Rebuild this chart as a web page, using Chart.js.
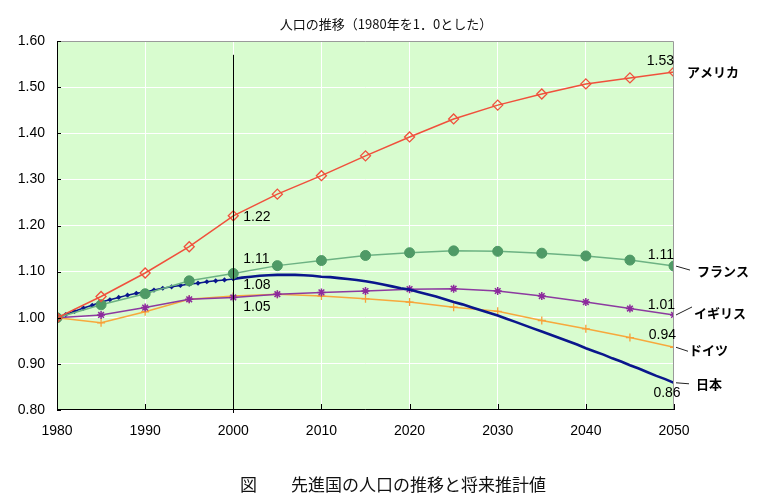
<!DOCTYPE html>
<html><head><meta charset="utf-8">
<script src="https://cdn.jsdelivr.net/npm/chart.js@4"></script>
<style>html,body{margin:0;padding:0;background:#fff}#wrap{width:775px;height:500px}</style>
</head><body><div id="wrap"><canvas id="c" width="775" height="500"></canvas></div>
<script>
const years5 = [1980,1985,1990,1995,2000,2005,2010,2015,2020,2025,2030,2035,2040,2045,2050];
const usa     = [1.000,1.046,1.097,1.154,1.221,1.268,1.308,1.351,1.392,1.431,1.461,1.485,1.507,1.520,1.533];
const france  = [1.000,1.028,1.052,1.080,1.096,1.113,1.124,1.135,1.141,1.145,1.144,1.140,1.134,1.125,1.112];
const uk      = [1.000,1.006,1.022,1.040,1.044,1.051,1.055,1.058,1.062,1.063,1.058,1.047,1.034,1.020,1.006];
const germany = [1.000,0.989,1.013,1.040,1.047,1.051,1.047,1.041,1.034,1.023,1.014,0.994,0.976,0.957,0.936];
const japanYears = Array.from({length:71},(_,i)=>1980+i);
const japan = [1.000,1.007,1.014,1.021,1.027,1.034,1.039,1.044,1.049,1.053,
  1.056,1.060,1.064,1.067,1.070,1.073,1.075,1.078,1.080,1.082,
  1.084,1.087,1.089,1.091,1.092,1.093,1.093,1.093,1.092,1.091,
  1.089,1.088,1.086,1.084,1.082,1.079,1.076,1.072,1.068,1.064,
  1.061,1.056,1.051,1.046,1.040,1.034,1.029,1.023,1.017,1.011,
  1.005,0.998,0.991,0.984,0.977,0.970,0.963,0.956,0.949,0.942,
  0.934,0.927,0.920,0.912,0.905,0.897,0.890,0.882,0.874,0.867,0.859];
const countryNames = ['アメリカ','フランス','イギリス','ドイツ','日本'];
const xTicks = [1980,1990,2000,2010,2020,2030,2040,2050];
const yTicks = [0.80,0.90,1.00,1.10,1.20,1.30,1.40,1.50,1.60];
const labels2000 = ['1.22','1.11','1.08','1.05'];
const labels2050 = ['1.53','1.11','1.01','0.94','0.86'];
const titleText = '人口の推移（1980年を1．0とした）';
const captionText = '図　　先進国の人口の推移と将来推計値';

const pts = (xs, ys) => xs.map((x,i)=>({x, y: ys[i]}));
const NUM = '"Liberation Sans", Arial, sans-serif';
const JP = '"Noto Sans CJK JP", sans-serif';

const deco = {
  id: 'deco',
  beforeDraw(chart) {
    const {ctx, chartArea: a} = chart;
    ctx.save();
    ctx.fillStyle = '#d8fccf';
    ctx.fillRect(a.left, a.top, a.right - a.left, a.bottom - a.top);
    ctx.restore();
  },
  afterDatasetsDraw(chart) {
    const {ctx, chartArea: a, scales: {x, y}} = chart;
    ctx.save();
    ctx.strokeStyle = '#000'; ctx.lineWidth = 1;
    const x2000 = Math.round(x.getPixelForValue(2000)) + 0.5;
    ctx.beginPath(); ctx.moveTo(x2000, y.getPixelForValue(1.57)); ctx.lineTo(x2000, a.bottom + 3); ctx.stroke();
    ctx.strokeStyle = '#9a9a9a';
    ctx.beginPath(); ctx.moveTo(a.left, a.top + 0.5); ctx.lineTo(a.right - 0.5, a.top + 0.5); ctx.lineTo(a.right - 0.5, a.bottom); ctx.stroke();
    ctx.strokeStyle = '#000';
    ctx.beginPath(); ctx.moveTo(a.left + 0.5, a.top); ctx.lineTo(a.left + 0.5, a.bottom - 0.5); ctx.lineTo(a.right, a.bottom - 0.5); ctx.stroke();
    ctx.beginPath();
    xTicks.forEach(v => { const px = Math.round(x.getPixelForValue(v)) + 0.5; ctx.moveTo(px, a.bottom); ctx.lineTo(px, a.bottom - 6); });
    yTicks.forEach(v => { const py = Math.round(y.getPixelForValue(v)) + 0.5; ctx.moveTo(a.left, py); ctx.lineTo(a.left + 4, py); });
    ctx.stroke();

    ctx.fillStyle = '#000';
    ctx.font = '14px ' + NUM;
    ctx.textBaseline = 'middle';
    const xp2000 = x.getPixelForValue(2000);
    ctx.textAlign = 'left';
    ctx.fillText(labels2000[0], xp2000 + 10, y.getPixelForValue(usa[4]) + 1);
    ctx.fillText(labels2000[1], xp2000 + 10, y.getPixelForValue(france[5]) - 6);
    ctx.fillText(labels2000[2], xp2000 + 10, y.getPixelForValue(japan[20]) + 6);
    ctx.fillText(labels2000[3], xp2000 + 10, y.getPixelForValue(uk[4]) + 10);
    const xe = x.getPixelForValue(2050);
    ctx.textAlign = 'right';
    ctx.fillText(labels2050[0], xe, y.getPixelForValue(usa[14]) - 11);
    ctx.fillText(labels2050[1], xe, y.getPixelForValue(france[14]) - 11);
    ctx.fillText(labels2050[2], xe + 1, y.getPixelForValue(uk[14]) - 10);
    ctx.fillText(labels2050[3], xe + 2, y.getPixelForValue(germany[14]) - 12);
    ctx.textAlign = 'center';
    ctx.fillText(labels2050[4], xe - 7, y.getPixelForValue(japan[70]) + 10);

    ctx.font = 'bold 13px ' + JP;
    ctx.textAlign = 'left';
    ctx.strokeStyle = '#222'; ctx.lineWidth = 1;
    ctx.fillText(countryNames[0], xe + 13, y.getPixelForValue(usa[14]));
    const lead = (yv, dx1, dy1, tx, ty, name) => {
      const py = y.getPixelForValue(yv);
      ctx.beginPath(); ctx.moveTo(xe + 2, py); ctx.lineTo(xe + dx1, py + dy1); ctx.stroke();
      ctx.fillText(name, xe + tx, py + ty);
    };
    lead(france[14], 16, 4, 23, 5, countryNames[1]);
    lead(uk[14], 18, -8, 20, -2, countryNames[2]);
    lead(germany[14], 14, 4, 15, 3, countryNames[3]);
    lead(japan[70], 15, 1, 22, 1, countryNames[4]);

    ctx.fillStyle = '#111';
    ctx.font = '13px ' + JP;
    ctx.textAlign = 'center';
    ctx.fillText(titleText, 386, 24);
    ctx.font = '17px ' + JP;
    ctx.textAlign = 'left';
    ctx.fillText(captionText, 240, 485);
    ctx.restore();
  }
};

new Chart(document.getElementById('c'), {
  type: 'line',
  data: {
    datasets: [
      { label: countryNames[0], data: pts(years5, usa), borderColor: '#f0503c', borderWidth: 1.5,
        pointStyle: 'rectRot', pointRadius: 5, pointBorderColor: '#f0503c', pointBackgroundColor: 'rgba(0,0,0,0)', pointBorderWidth: 1.3 },
      { label: countryNames[1], data: pts(years5, france), borderColor: '#6cb283', borderWidth: 1.5,
        pointStyle: 'circle', pointRadius: 5, pointBorderColor: '#4f9a66', pointBackgroundColor: '#4f9a66', pointBorderWidth: 1 },
      { label: countryNames[4], data: pts(japanYears, japan), borderColor: '#0a168c', borderWidth: 2.6,
        segment: { borderWidth: c => (c.p1.parsed.x <= 2000 ? 1.5 : 2.6) },
        pointStyle: 'rectRot', pointRadius: c => (c.raw && c.raw.x <= 2000 ? 2.6 : 0), pointBackgroundColor: '#0a168c', pointBorderColor: '#0a168c', pointBorderWidth: 0 },
      { label: countryNames[2], data: pts(years5, uk), borderColor: '#8c3aa0', borderWidth: 1.5,
        pointStyle: 'star', pointRadius: 4, pointBorderColor: '#8c2a9c', pointBackgroundColor: '#8c2a9c', pointBorderWidth: 1.5 },
      { label: countryNames[3], data: pts(years5, germany), borderColor: '#f7a83c', borderWidth: 1.5,
        pointStyle: 'cross', pointRadius: 4, pointBorderColor: '#f7a03a', pointBorderWidth: 1.3 }
    ]
  },
  options: {
    responsive: false, animation: false,
    layout: { padding: { left: 0, right: 101, top: 41, bottom: 0 } },
    plugins: { legend: { display: false }, tooltip: { enabled: false }, title: { display: false } },
    elements: { line: { tension: 0 } },
    scales: {
      x: { type: 'linear', min: 1980, max: 2050,
        afterFit: s => { s.height = 90; },
        afterBuildTicks: s => { s.ticks = xTicks.map(v => ({value: v})); },
        grid: { color: '#ffffff', lineWidth: 1, drawTicks: false },
        border: { display: false },
        ticks: { padding: 13, color: '#000', font: { family: NUM, size: 14 }, callback: v => String(v), maxRotation: 0 } },
      y: { type: 'linear', min: 0.8, max: 1.6,
        afterFit: s => { s.width = 57; },
        afterBuildTicks: s => { s.ticks = yTicks.map(v => ({value: v})); },
        grid: { color: '#ffffff', lineWidth: 1, drawTicks: false },
        border: { display: false },
        ticks: { padding: 12, color: '#000', font: { family: NUM, size: 14 }, callback: v => Number(v).toFixed(2) } }
    }
  },
  plugins: [deco]
});
</script></body></html>
